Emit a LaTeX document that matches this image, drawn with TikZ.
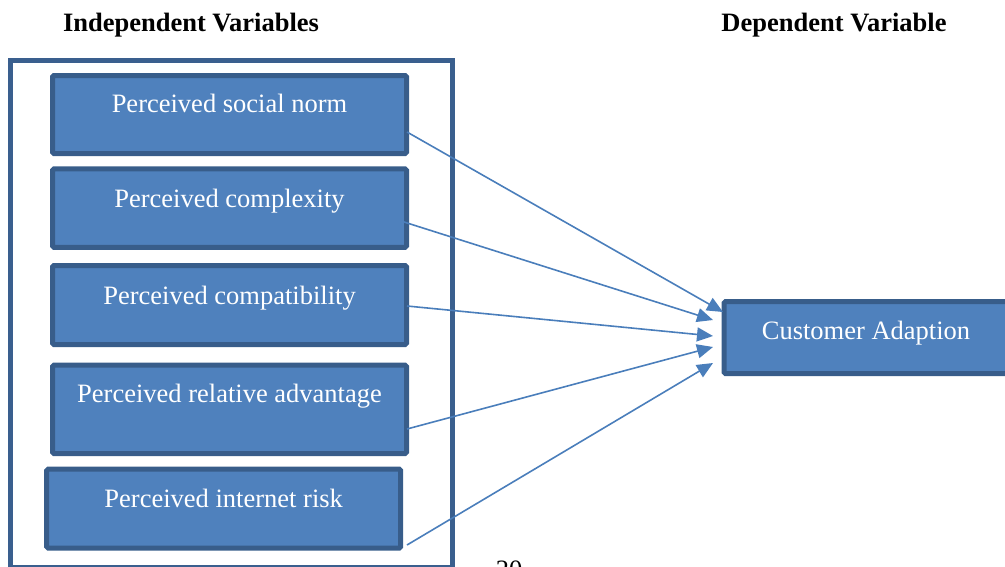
\documentclass[tikz,border=0pt]{standalone}
\usepackage{fontspec}
\setmainfont{Liberation Serif}
\usetikzlibrary{arrows.meta}
\definecolor{boxfill}{HTML}{4F81BD}
\definecolor{boxline}{HTML}{385D8A}
\definecolor{frameline}{HTML}{3A5F8E}
\definecolor{arrowline}{HTML}{4A7EBB}
\tikzset{
  varbox/.style={draw=boxline, fill=boxfill, line width=5pt, rounded corners=1.5pt,
    inner sep=0pt, minimum width=354pt},
  vartext/.style={text=white, anchor=base, inner sep=0pt,
    font=\fontsize{26.5}{30}\selectfont},
  header/.style={anchor=base, inner sep=0pt, font=\fontsize{26.5}{30}\selectfont\bfseries},
  link/.style={draw=arrowline, line width=1.6pt, -{Triangle[length=16pt,width=14pt]}},
}
\begin{document}
\begin{tikzpicture}[x=1pt,y=-1pt]
\useasboundingbox (0,0) rectangle (1005,566);
% headers
\node[header] (hind) at (191,31) {Independent Variables};
\node[header] (hdep) at (834,31) {Dependent Variable};
% outer frame
\node[draw=frameline, line width=5pt, inner sep=0pt, minimum width=442pt, minimum height=507pt] (frame) at (231,313.5) {};
% boxes
\node[varbox, minimum height=78pt] (b1) at (229.5,114.5) {};
\node[varbox, minimum height=78.5pt] (b2) at (229.5,208.2) {};
\node[varbox, minimum height=79pt] (b3) at (229.5,305) {};
\node[varbox, minimum height=88.5pt] (b4) at (229.5,409.3) {};
\node[varbox, minimum height=79pt] (b5) at (223.7,508.6) {};
\node[varbox, minimum width=284pt, minimum height=72pt] (ca) at (866,337.7) {};
% texts
\node[vartext] (t1) at (229.5,112) {Perceived social norm};
\node[vartext] (t2) at (229.5,207) {Perceived complexity};
\node[vartext] (t3) at (229.5,304) {Perceived compatibility};
\node[vartext] (t4) at (229.5,402) {Perceived relative advantage};
\node[vartext] (t5) at (223.7,507) {Perceived internet risk};
\node[vartext] (tca) at (866,339) {Customer Adaption};
% page number (cut off)
\node[anchor=base, inner sep=0pt, font=\fontsize{26.5}{30}\selectfont] (pg) at (509,578) {20};
% connector end points
\coordinate (s1) at (407,132);
\coordinate (s2) at (404,222);
\coordinate (s3) at (407,306);
\coordinate (s4) at (407,429);
\coordinate (s5) at (407,545);
\coordinate (e1) at (723,312);
\coordinate (e2) at (713,320);
\coordinate (e3) at (713,336);
\coordinate (e4) at (713,347);
\coordinate (e5) at (713,363);
\draw[link] (s1) -- (e1);
\draw[link] (s2) -- (e2);
\draw[link] (s3) -- (e3);
\draw[link] (s4) -- (e4);
\draw[link] (s5) -- (e5);
\end{tikzpicture}
\end{document}
